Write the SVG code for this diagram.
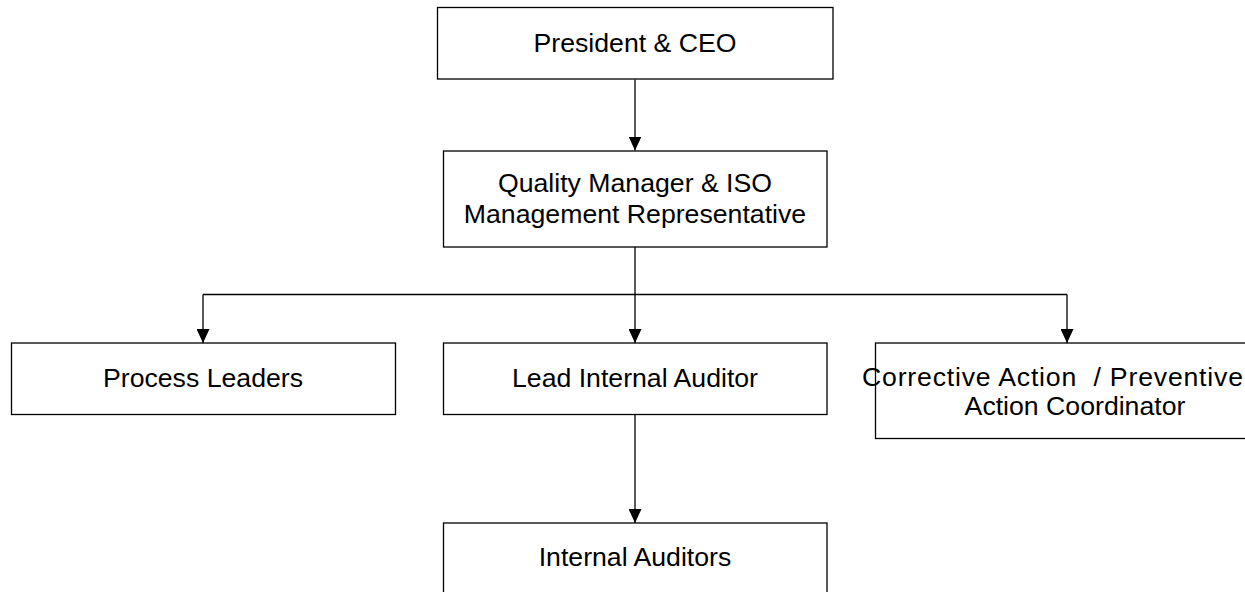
<svg xmlns="http://www.w3.org/2000/svg" width="1245" height="592" viewBox="0 0 1245 592">
<style>
.box{fill:#fff;stroke:#000;stroke-width:1.3}
.lbl{font-family:"Liberation Sans",Arial,sans-serif;font-size:26.67px;fill:#000;text-anchor:middle}
.lft{text-anchor:start}
.con{fill:none;stroke:#000;stroke-width:1.3}
</style>
<defs>
<marker id="arr" viewBox="0 0 14 13" markerWidth="14" markerHeight="13" markerUnits="userSpaceOnUse" refX="14" refY="6.5" orient="auto">
<path d="M0,0 L14,6.5 L0,13 Z" fill="#000"/>
</marker>
</defs>
<rect width="1245" height="592" fill="#fff"/>
<g id="connectors">
<path class="con" d="M635,79.5 V150.5" marker-end="url(#arr)"/>
<path class="con" d="M635,247 V294.5"/>
<path class="con" d="M203,294.5 H1067"/>
<path class="con" d="M203,294.5 V343" marker-end="url(#arr)"/>
<path class="con" d="M635,294.5 V343" marker-end="url(#arr)"/>
<path class="con" d="M1067,294.5 V343" marker-end="url(#arr)"/>
<path class="con" d="M635,414.5 V523" marker-end="url(#arr)"/>
</g>
<g id="president">
<rect class="box" x="437.5" y="7.5" width="395.5" height="71.5"/>
<text class="lbl" x="635" y="52">President &amp; CEO</text>
</g>
<g id="quality-manager">
<rect class="box" x="443.5" y="151" width="383.5" height="96"/>
<text class="lbl" x="635" y="192">Quality Manager &amp; ISO</text>
<text class="lbl" x="635" y="223">Management Representative</text>
</g>
<g id="process-leaders">
<rect class="box" x="11.5" y="343" width="384" height="71.5"/>
<text class="lbl" x="203" y="387">Process Leaders</text>
</g>
<g id="lead-auditor">
<rect class="box" x="443.5" y="343" width="383.5" height="71.5"/>
<text class="lbl" x="635" y="387">Lead Internal Auditor</text>
</g>
<g id="capa-coordinator">
<rect class="box" x="875.5" y="343" width="384" height="95.5"/>
<text class="lbl lft" x="862" y="386" textLength="381" style="white-space:pre">Corrective Action  / Preventive</text>
<text class="lbl" x="1075" y="415">Action Coordinator</text>
</g>
<g id="internal-auditors">
<rect class="box" x="443.5" y="523" width="383.5" height="90"/>
<text class="lbl" x="635" y="566">Internal Auditors</text>
</g>
</svg>
